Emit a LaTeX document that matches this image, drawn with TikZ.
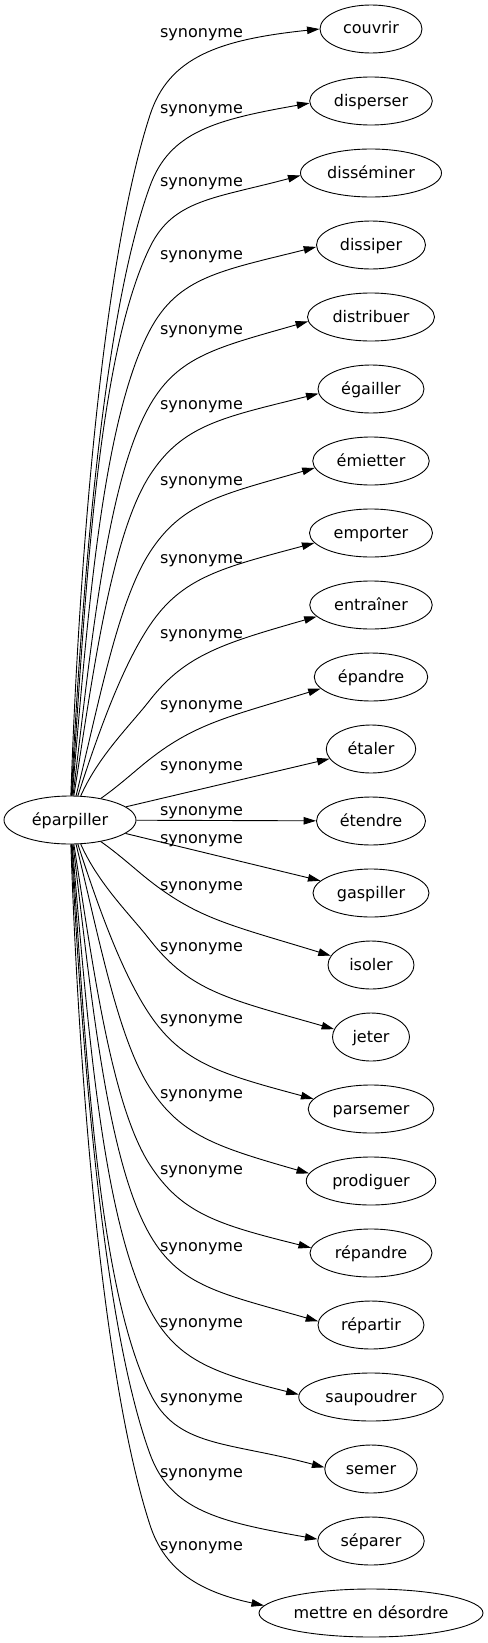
\documentclass[tikz,border=0pt]{standalone}
\usepackage{fontspec}
\setmainfont{DejaVu Sans}
\usetikzlibrary{shapes.geometric,arrows.meta}
\newcommand\tnode[4]{%
  \node[tgt, minimum width=#3bp] (#1) at (371,-#2) {#4};}
\begin{document}
\begin{tikzpicture}[x=1bp,y=1bp,font=\fontsize{16bp}{19bp}\selectfont,
  tgt/.style={ellipse,draw,line width=0.9bp,inner sep=0pt,minimum height=48bp,text height=12.5bp,text depth=2.5bp},
  lab/.style={inner sep=0pt,text height=12.5bp,text depth=2.5bp},
  conn/.style={line width=0.9bp,-{Triangle[length=12.5bp,width=7.5bp]}}]
\fill[white] (0,0) rectangle (488,-1643);
\useasboundingbox (0,0) rectangle (488,-1643);

\node[tgt,minimum width=132bp] (src) at (70,-820) {éparpiller};

\tnode{n1}{29}{102}{couvrir}
\tnode{n2}{101}{122.6}{disperser}
\tnode{n3}{173}{141}{disséminer}
\tnode{n4}{245}{109}{dissiper}
\tnode{n5}{317}{127}{distribuer}
\tnode{n6}{389}{106}{égailler}
\tnode{n7}{461}{116.5}{émietter}
\tnode{n8}{533}{123}{emporter}
\tnode{n9}{605}{122.5}{entraîner}
\tnode{n10}{677}{113.5}{épandre}
\tnode{n11}{749}{89.5}{étaler}
\tnode{n12}{821}{109}{étendre}
\tnode{n13}{893}{116}{gaspiller}
\tnode{n14}{965}{86}{isoler}
\tnode{n15}{1037}{77}{jeter}
\tnode{n16}{1109}{125.6}{parsemer}
\tnode{n17}{1181}{129.5}{prodiguer}
\tnode{n18}{1253}{122}{répandre}
\tnode{n19}{1325}{106}{répartir}
\tnode{n20}{1397}{144.5}{saupoudrer}
\tnode{n21}{1469}{92.5}{semer}
\tnode{n22}{1541}{106.5}{séparer}
\tnode{n23}{1613}{224}{mettre en désordre}

\node[lab] (l1) at (201.5,-33) {synonyme};
\node[lab] (l2) at (201.5,-108) {synonyme};
\node[lab] (l3) at (201.5,-181) {synonyme};
\node[lab] (l4) at (201.5,-254) {synonyme};
\node[lab] (l5) at (201.5,-329) {synonyme};
\node[lab] (l6) at (201.5,-404) {synonyme};
\node[lab] (l7) at (201.5,-480) {synonyme};
\node[lab] (l8) at (201.5,-558) {synonyme};
\node[lab] (l9) at (201.5,-633) {synonyme};
\node[lab] (l10) at (201.5,-704) {synonyme};
\node[lab] (l11) at (201.5,-765) {synonyme};
\node[lab] (l12) at (201.5,-810) {synonyme};
\node[lab] (l13) at (201.5,-838) {synonyme};
\node[lab] (l14) at (201.5,-885) {synonyme};
\node[lab] (l15) at (201.5,-946) {synonyme};
\node[lab] (l16) at (201.5,-1018) {synonyme};
\node[lab] (l17) at (201.5,-1093) {synonyme};
\node[lab] (l18) at (201.5,-1169) {synonyme};
\node[lab] (l19) at (201.5,-1246) {synonyme};
\node[lab] (l20) at (201.5,-1322) {synonyme};
\node[lab] (l21) at (201.5,-1397) {synonyme};
\node[lab] (l22) at (201.5,-1472) {synonyme};
\node[lab] (l23) at (201.5,-1545) {synonyme};

\coordinate (k1) at (150,-115);
\coordinate (k2) at (150,-186);
\coordinate (k3) at (150,-247);
\coordinate (k4) at (150,-330);
\coordinate (k5) at (150,-405);
\coordinate (k6) at (150,-475);
\coordinate (k7) at (150,-552);
\coordinate (k8) at (150,-625);
\coordinate (k9) at (150,-700);
\coordinate (k10) at (150,-759);
\coordinate (k14) at (150,-881);
\coordinate (k15) at (150,-940);
\coordinate (k16) at (150,-1015);
\coordinate (k17) at (150,-1088);
\coordinate (k18) at (150,-1165);
\coordinate (k19) at (150,-1235);
\coordinate (k20) at (150,-1310);
\coordinate (k21) at (150,-1393);
\coordinate (k22) at (150,-1454);
\coordinate (k23) at (150,-1525);

\draw[conn] (src) to[out=88,in=252,out distance=247bp,in distance=150bp] (k1) to[out=72,in=186,out distance=61bp,in distance=101bp] (n1.180);
\draw[conn] (src) to[out=87,in=250,out distance=221bp,in distance=135bp] (k2) to[out=70,in=190,out distance=58bp,in distance=95bp] (n2.182);
\draw[conn] (src) to[out=86,in=244,out distance=200bp,in distance=122bp] (k3) to[out=64,in=195,out distance=53bp,in distance=89bp] (n3.182);
\draw[conn] (src) to[out=85,in=242,out distance=170bp,in distance=104bp] (k4) to[out=62,in=194,out distance=60bp,in distance=99bp] (n4.182);
\draw[conn] (src) to[out=83,in=240,out distance=143bp,in distance=88bp] (k5) to[out=60,in=196,out distance=57bp,in distance=94bp] (n5.184);
\draw[conn] (src) to[out=81,in=237,out distance=118bp,in distance=72bp] (k6) to[out=57,in=194,out distance=60bp,in distance=99bp] (n6.185);
\draw[conn] (src) to[out=76,in=237,out distance=92bp,in distance=60bp] (k7) to[out=57,in=196,out distance=59bp,in distance=98bp] (n7.187);
\draw[conn] (src) to[out=72,in=236,out distance=67bp,in distance=50bp] (k8) to[out=56,in=195,out distance=58bp,in distance=95bp] (n8.190);
\draw[conn] (src) to[out=66,in=232,out distance=44bp,in distance=33bp] (k9) to[out=52,in=196,out distance=58bp,in distance=96bp] (n9.192);
\draw[conn] (src) to[out=35,in=218,out distance=23bp,in distance=18bp] (k10) to[out=38,in=197,out distance=58bp,in distance=95bp] (n10.193);
\draw[conn] (src) -- (n11);
\draw[conn] (src) -- (n12);
\draw[conn] (src) -- (n13);
\draw[conn] (src) to[out=-35,in=142,out distance=23bp,in distance=18bp] (k14) to[out=-38,in=163,out distance=62bp,in distance=103bp] (n14.167);
\draw[conn] (src) to[out=-66,in=128,out distance=44bp,in distance=33bp] (k15) to[out=-52,in=164,out distance=66bp,in distance=109bp] (n15.168);
\draw[conn] (src) to[out=-72,in=124,out distance=67bp,in distance=50bp] (k16) to[out=-56,in=165,out distance=58bp,in distance=95bp] (n16.170);
\draw[conn] (src) to[out=-76,in=123,out distance=92bp,in distance=60bp] (k17) to[out=-57,in=164,out distance=57bp,in distance=95bp] (n17.173);
\draw[conn] (src) to[out=-81,in=123,out distance=118bp,in distance=72bp] (k18) to[out=-57,in=166,out distance=58bp,in distance=96bp] (n18.175);
\draw[conn] (src) to[out=-83,in=120,out distance=143bp,in distance=88bp] (k19) to[out=-60,in=164,out distance=60bp,in distance=100bp] (n19.176);
\draw[conn] (src) to[out=-85,in=118,out distance=170bp,in distance=104bp] (k20) to[out=-62,in=166,out distance=55bp,in distance=91bp] (n20.178);
\draw[conn] (src) to[out=-86,in=116,out distance=200bp,in distance=122bp] (k21) to[out=-64,in=165,out distance=61bp,in distance=101bp] (n21.178);
\draw[conn] (src) to[out=-87,in=110,out distance=221bp,in distance=135bp] (k22) to[out=-70,in=170,out distance=60bp,in distance=100bp] (n22.178);
\draw[conn] (src) to[out=-88,in=108,out distance=247bp,in distance=150bp] (k23) to[out=-72,in=168,out distance=43bp,in distance=72bp] (n23.176);
\end{tikzpicture}
\end{document}
